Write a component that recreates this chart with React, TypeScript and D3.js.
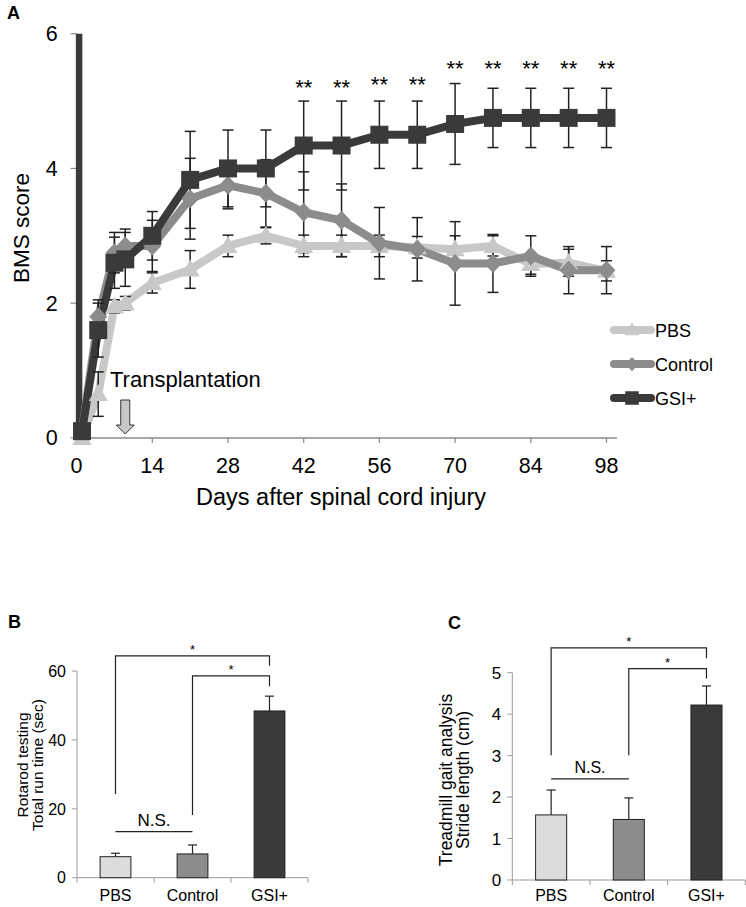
import React from 'react';
import * as d3 from 'd3';

// ---------- Panel A data ----------
const days = [1, 4, 7, 9, 14, 21, 28, 35, 42, 49, 56, 63, 70, 77, 84, 91, 98];
const pbs = [0, 0.65, 1.95, 2.0, 2.3, 2.5, 2.85, 3.0, 2.85, 2.85, 2.85, 2.83, 2.8, 2.85, 2.58, 2.6, 2.48];
const pbsErr = [0.02, 0.33, 0.1, 0.1, 0.15, 0.28, 0.16, 0.12, 0.16, 0.16, 0.16, 0.16, 0.2, 0.15, 0.15, 0.2, 0.15];
const control = [0.1, 1.8, 2.75, 2.85, 2.85, 3.55, 3.75, 3.63, 3.35, 3.23, 2.89, 2.8, 2.59, 2.59, 2.7, 2.49, 2.49];
const controlErr = [0.05, 0.25, 0.3, 0.25, 0.38, 0.6, 0.35, 0.5, 0.6, 0.54, 0.53, 0.47, 0.62, 0.43, 0.3, 0.35, 0.35];
const gsi = [0.1, 1.6, 2.6, 2.65, 3.0, 3.83, 4.0, 4.0, 4.34, 4.34, 4.5, 4.5, 4.66, 4.75, 4.75, 4.75, 4.75];
const gsiErr = [0.05, 0.4, 0.38, 0.4, 0.36, 0.72, 0.57, 0.57, 0.66, 0.66, 0.5, 0.5, 0.6, 0.44, 0.44, 0.44, 0.44];
const xTicksA = [0, 14, 28, 42, 56, 70, 84, 98];
const yTicksA = [0, 2, 4, 6];
const starDays = [42, 49, 56, 63, 70, 77, 84, 91, 98];
const starLevels = [5.28, 5.28, 5.32, 5.32, 5.56, 5.56, 5.56, 5.56, 5.56];
const transplantDay = 9;

// ---------- Panel B / C data ----------
const groups = ['PBS', 'Control', 'GSI+'];
const rotarod = [6.1, 6.9, 48.4];
const rotarodErr = [1.0, 2.6, 4.3];
const rotarodTicks = [0, 20, 40, 60];
const stride = [1.57, 1.46, 4.22];
const strideErr = [0.6, 0.52, 0.46];
const strideTicks = [0, 1, 2, 3, 4, 5];
// bracket levels: [top, leftLegBottom, rightLegBottom]
const rotarodBrackets = [
  { from: 'PBS', to: 'GSI+', top: 64.4, left: 24.3, right: 61.5 },
  { from: 'Control', to: 'GSI+', top: 58.6, left: 18.2, right: 55.6 },
];
const rotarodNS = 13.4;
const strideBrackets = [
  { from: 'PBS', to: 'GSI+', top: 5.6, left: 3.01, right: 5.35 },
  { from: 'Control', to: 'GSI+', top: 5.1, left: 3.01, right: 4.86 },
];
const strideNS = 2.44;

const FONT = '"Liberation Sans", Arial, Helvetica, sans-serif';
const barColors = ['#dcdcdc', '#8c8c8c', '#3a3a3a'];

const shapes: Record<string, string> = {
  triangle: 'M0,-10L9.5,7L-9.5,7Z',
  diamond: 'M0,-9.5L9,0L0,9.5L-9,0Z',
  square: 'M-9,-9h18v18h-18Z',
};

function PanelA() {
  const xA = d3.scaleLinear().domain([0, 98]).range([76.6, 606.5]);
  const yA = d3.scaleLinear().domain([0, 6]).range([437.9, 33.7]);
  const series = [
    { name: 'PBS', values: pbs, err: pbsErr, color: '#c8c8c8', shape: 'triangle' },
    { name: 'Control', values: control, err: controlErr, color: '#8c8c8c', shape: 'diamond' },
    { name: 'GSI+', values: gsi, err: gsiErr, color: '#3a3a3a', shape: 'square' },
  ];
  const line = d3
    .line<number>()
    .x((_, i) => xA(days[i]))
    .y((d) => yA(d));
  const x0 = xA(0);
  const xEnd = xA(98) + 10.5;
  const legendY = [330, 364, 398];
  const tx = xA(transplantDay);
  return (
    <g>
      <text x={7} y={19} fontSize={18} fontWeight="bold" fontFamily={FONT}>A</text>
      {/* x axis */}
      <line x1={x0} x2={xEnd} y1={yA(0)} y2={yA(0)} stroke="#8a8a8a" strokeWidth={1.5} />
      {xTicksA.map((t) => (
        <g key={t}>
          <line x1={xA(t)} x2={xA(t)} y1={yA(0)} y2={yA(0) + 5} stroke="#8a8a8a" strokeWidth={1.2} />
          <text x={xA(t)} y={yA(0) + 35} textAnchor="middle" fontSize={21.5} fontFamily={FONT}>{t}</text>
        </g>
      ))}
      {/* y axis */}
      {yTicksA.map((t) => (
        <g key={t}>
          <line x1={x0 - 6} x2={x0} y1={yA(t)} y2={yA(t)} stroke="#8a8a8a" strokeWidth={1.2} />
          <text x={x0 - 19} y={yA(t) + 7.5} textAnchor="end" fontSize={21.5} fontFamily={FONT}>{t}</text>
        </g>
      ))}
      <line x1={x0 + 2.5} x2={x0 + 2.5} y1={yA(6)} y2={yA(0.1)} stroke="#3a3a3a" strokeWidth={6.5} />
      <text transform={`translate(29,228) rotate(-90)`} textAnchor="middle" fontSize={22.5} fontFamily={FONT}>BMS score</text>
      <text x={341} y={505} textAnchor="middle" fontSize={23.5} fontFamily={FONT}>Days after spinal cord injury</text>

      {/* lines */}
      {series.map((s) => (
        <path key={s.name} d={line(s.values) || ''} fill="none" stroke={s.color} strokeWidth={8} strokeLinejoin="round" />
      ))}
      {/* error bars */}
      {series.map((s) =>
        s.values.map((v, i) => {
          const x = xA(days[i]);
          const y1 = yA(v + s.err[i]);
          const y2 = yA(v - s.err[i]);
          return (
            <g key={s.name + i} stroke="#222" strokeWidth={1.5}>
              <line x1={x} x2={x} y1={y1} y2={y2} />
              <line x1={x - 5.5} x2={x + 5.5} y1={y1} y2={y1} />
              <line x1={x - 5.5} x2={x + 5.5} y1={y2} y2={y2} />
            </g>
          );
        })
      )}
      {/* markers */}
      {series.map((s) =>
        s.values.map((v, i) => (
          <path key={s.name + 'm' + i} d={shapes[s.shape]} transform={`translate(${xA(days[i])},${yA(v)})`} fill={s.color} />
        ))
      )}
      {/* stars */}
      {starDays.map((d, i) => (
        <text key={d} x={xA(d)} y={yA(starLevels[i]) + 12.5} textAnchor="middle" fontSize={22} fontFamily={FONT}>**</text>
      ))}
      {/* transplantation */}
      <text x={110} y={387} fontSize={22} fontFamily={FONT}>Transplantation</text>
      <path
        d={`M${tx - 4.5},400 h9 v25 h4.5 L${tx},434 L${tx - 9},425 h4.5 Z`}
        fill="#c8c8c8"
        stroke="#333"
        strokeWidth={1}
      />
      {/* legend */}
      {series.map((s, i) => (
        <g key={s.name}>
          <line x1={614} x2={651} y1={legendY[i]} y2={legendY[i]} stroke={s.color} strokeWidth={8} strokeLinecap="round" />
          <path d={shapes[s.shape]} transform={`translate(632,${legendY[i]}) scale(0.75)`} fill={s.color} />
          <text x={655} y={legendY[i] + 6.5} fontSize={18} fontFamily={FONT}>{s.name}</text>
        </g>
      ))}
    </g>
  );
}

type BarProps = {
  label: string;
  labelX: number;
  labelY: number;
  xRange: [number, number];
  yRange: [number, number];
  yMax: number;
  values: number[];
  errs: number[];
  ticks: number[];
  tickFont: number;
  brackets: { from: string; to: string; top: number; left: number; right: number }[];
  ns: number;
  nsFont: number;
  yLabels: string[];
  yLabelXs: number[];
  yLabelY: number;
  yLabelFont: number;
};

function BarPanel(p: BarProps) {
  const x = d3.scaleBand().domain(groups).range(p.xRange).padding(0);
  const y = d3.scaleLinear().domain([0, p.yMax]).range(p.yRange);
  const bw = x.bandwidth();
  const cx = (g: string) => (x(g) as number) + bw / 2;
  const y0 = y(0);
  return (
    <g>
      <text x={p.labelX} y={p.labelY} fontSize={18} fontWeight="bold" fontFamily={FONT}>{p.label}</text>
      {/* axes */}
      <line x1={p.xRange[0]} x2={p.xRange[1]} y1={y0} y2={y0} stroke="#9a9a9a" strokeWidth={1} />
      {[...groups.map((g) => x(g) as number), p.xRange[1]].map((t, i) => (
        <line key={i} x1={t} x2={t} y1={y0} y2={y0 + 5} stroke="#9a9a9a" strokeWidth={1} />
      ))}
      <line x1={p.xRange[0]} x2={p.xRange[0]} y1={y0} y2={y(p.yMax)} stroke="#9a9a9a" strokeWidth={1} />
      {p.ticks.map((t) => (
        <g key={t}>
          <line x1={p.xRange[0] - 5} x2={p.xRange[0]} y1={y(t)} y2={y(t)} stroke="#9a9a9a" strokeWidth={1} />
          <text x={p.xRange[0] - 11} y={y(t) + p.tickFont * 0.36} textAnchor="end" fontSize={p.tickFont} fontFamily={FONT}>{t}</text>
        </g>
      ))}
      {groups.map((g) => (
        <text key={g} x={cx(g)} y={901} textAnchor="middle" fontSize={16} fontFamily={FONT}>{g}</text>
      ))}
      {p.yLabels.map((l, i) => (
        <text key={l} transform={`translate(${p.yLabelXs[i]},${p.yLabelY}) rotate(-90)`} textAnchor="middle" fontSize={p.yLabelFont} fontFamily={FONT}>{l}</text>
      ))}
      {/* bars */}
      {groups.map((g, i) => {
        const top = y(p.values[i]);
        const et = y(p.values[i] + p.errs[i]);
        const c = cx(g);
        return (
          <g key={g}>
            <line x1={c} x2={c} y1={top} y2={et} stroke="#222" strokeWidth={1.2} />
            <line x1={c - 4.5} x2={c + 4.5} y1={et} y2={et} stroke="#222" strokeWidth={1.2} />
            <rect x={c - bw * 0.2} y={top} width={bw * 0.4} height={y0 - top} fill={barColors[i]} stroke="#222" strokeWidth={1} />
          </g>
        );
      })}
      {/* brackets */}
      {p.brackets.map((b, i) => {
        const a = cx(b.from);
        const c = cx(b.to);
        return (
          <g key={i}>
            <path d={`M${a},${y(b.left)}V${y(b.top)}H${c}V${y(b.right)}`} fill="none" stroke="#222" strokeWidth={1.2} />
            <text x={(a + c) / 2} y={y(b.top) - 2} textAnchor="middle" fontSize={13} fontFamily={FONT}>*</text>
          </g>
        );
      })}
      <line x1={cx('PBS')} x2={cx('Control')} y1={y(p.ns)} y2={y(p.ns)} stroke="#222" strokeWidth={1.2} />
      <text x={(cx('PBS') + cx('Control')) / 2} y={y(p.ns) - 6} textAnchor="middle" fontSize={p.nsFont} fontFamily={FONT}>N.S.</text>
    </g>
  );
}

export default function App() {
  return (
    <svg width={746} height={907} style={{ position: 'absolute', left: 0, top: 0, background: '#fff' }}>
      <rect width={746} height={907} fill="#fff" />
      <PanelA />
      <BarPanel
        label="B"
        labelX={8}
        labelY={628}
        xRange={[77, 308]}
        yRange={[877.7, 671]}
        yMax={60}
        values={rotarod}
        errs={rotarodErr}
        ticks={rotarodTicks}
        tickFont={16}
        brackets={rotarodBrackets}
        ns={rotarodNS}
        nsFont={17}
        yLabels={['Rotarod testing', 'Total run time (sec)']}
        yLabelXs={[27.5, 42.5]}
        yLabelY={765}
        yLabelFont={15.5}
      />
      <BarPanel
        label="C"
        labelX={448}
        labelY={629}
        xRange={[512.3, 745.3]}
        yRange={[880, 672.7]}
        yMax={5}
        values={stride}
        errs={strideErr}
        ticks={strideTicks}
        tickFont={17}
        brackets={strideBrackets}
        ns={strideNS}
        nsFont={16}
        yLabels={['Treadmill gait analysis', 'Stride length (cm)']}
        yLabelXs={[452, 469]}
        yLabelY={780}
        yLabelFont={17.5}
      />
    </svg>
  );
}
